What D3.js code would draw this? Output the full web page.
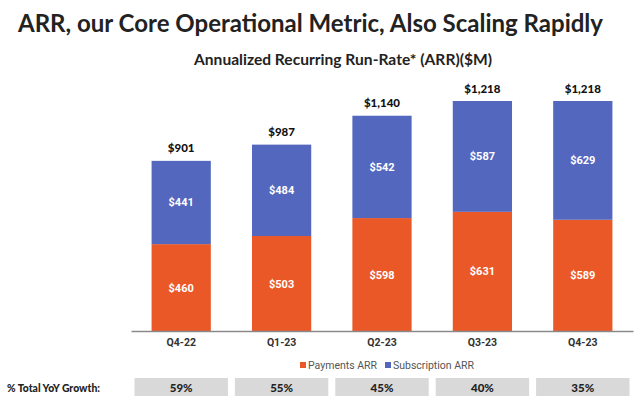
<!DOCTYPE html>
<html><head><meta charset="utf-8">
<script src="https://cdn.jsdelivr.net/npm/d3@7"></script>
<style>body{margin:0;background:#fff}svg{display:block}</style>
</head><body>
<svg id="c" width="640" height="404"></svg>
<script>
const categories = ["Q4-22","Q1-23","Q2-23","Q3-23","Q4-23"];
const payments = [460,503,598,631,589];
const subscription = [441,484,542,587,629];
const totalLabels = ["$901","$987","$1,140","$1,218","$1,218"];
const growth = ["59%","55%","45%","40%","35%"];
const seriesNames = ["Payments ARR","Subscription ARR"];
const colors = ["#EA5828","#5467BE"];

const svg = d3.select("#c");
const headFont = "Lato, 'Open Sans', sans-serif";
const chartFont = "Roboto, sans-serif";

svg.append("text").attr("x",18).attr("y",32)
  .attr("font-family",headFont).attr("font-weight",700).attr("font-size",25.5)
  .attr("fill","#222").attr("textLength",585).attr("lengthAdjust","spacingAndGlyphs")
  .text("ARR, our Core Operational Metric, Also Scaling Rapidly");
svg.append("text").attr("x",194).attr("y",65)
  .attr("font-family",headFont).attr("font-weight",700).attr("font-size",15.5)
  .attr("fill","#222").attr("textLength",298).attr("lengthAdjust","spacingAndGlyphs")
  .text("Annualized Recurring Run-Rate* (ARR)($M)");

const x = d3.scaleBand().domain(categories).range([131,633]).paddingInner(0.41).paddingOuter(0.205);
const xs = d3.scaleBand().domain(categories).range([131,633]).padding(0);
const y = d3.scaleLinear().domain([0,1218]).range([331,101]);

const data = categories.map((c,i)=>({cat:c, p:payments[i], s:subscription[i]}));
const stack = d3.stack().keys(["p","s"])(data);

const g = svg.append("g");
stack.forEach((layer,li)=>{
  g.selectAll(null).data(layer).enter().append("rect")
    .attr("x",d=>x(d.data.cat)).attr("width",x.bandwidth())
    .attr("y",d=>y(d[1])).attr("height",d=>y(d[0])-y(d[1]))
    .attr("fill",colors[li]);
  g.selectAll(null).data(layer).enter().append("text")
    .attr("x",d=>x(d.data.cat)+x.bandwidth()/2)
    .attr("y",d=>(y(d[0])+y(d[1]))/2+4)
    .attr("text-anchor","middle").attr("font-family",chartFont).attr("font-weight",700)
    .attr("font-size",11).attr("fill","#fff")
    .text(d=>"$"+(d[1]-d[0]));
});

// totals
g.selectAll(null).data(data).enter().append("text")
  .attr("x",d=>x(d.cat)+x.bandwidth()/2)
  .attr("y",d=>y(d.p+d.s)-8.5)
  .attr("text-anchor","middle").attr("font-family",headFont).attr("font-weight",900)
  .attr("font-size",11.5).attr("fill","#111")
  .text((d,i)=>totalLabels[i]);

// axis
const ax = svg.append("g").attr("transform","translate(0,331)")
  .call(d3.axisBottom(xs).tickSize(0).tickPadding(8));
ax.select(".domain").attr("stroke","#8a8a8a").attr("stroke-width",1.5);
ax.selectAll("text").attr("font-family",chartFont).attr("font-weight",700)
  .attr("font-size",10.5).attr("fill","#333");

// legend
const leg = svg.append("g");
const legX = [300,385];
seriesNames.forEach((n,i)=>{
  leg.append("rect").attr("x",legX[i]).attr("y",362).attr("width",6).attr("height",6).attr("fill",colors[i]);
  leg.append("text").attr("x",legX[i]+8).attr("y",369).attr("font-family",chartFont)
    .attr("font-size",10.5).attr("fill","#555").text(n);
});

// growth row
svg.append("text").attr("x",7).attr("y",391.5).attr("font-family",headFont).attr("font-weight",900)
  .attr("font-size",12).attr("fill","#222").attr("textLength",93).attr("lengthAdjust","spacingAndGlyphs")
  .text("% Total YoY Growth:");
const gr = svg.append("g");
gr.selectAll(null).data(categories).enter().append("rect")
  .attr("x",d=>xs(d)+3.5).attr("width",xs.bandwidth()-7)
  .attr("y",378).attr("height",18).attr("fill","#D9D9D9");
gr.selectAll(null).data(categories).enter().append("text")
  .attr("x",d=>xs(d)+xs.bandwidth()/2).attr("y",391.5)
  .attr("text-anchor","middle").attr("font-family",headFont).attr("font-weight",900)
  .attr("font-size",11.5).attr("fill","#222")
  .text((d,i)=>growth[i]);
</script>
</body></html>
